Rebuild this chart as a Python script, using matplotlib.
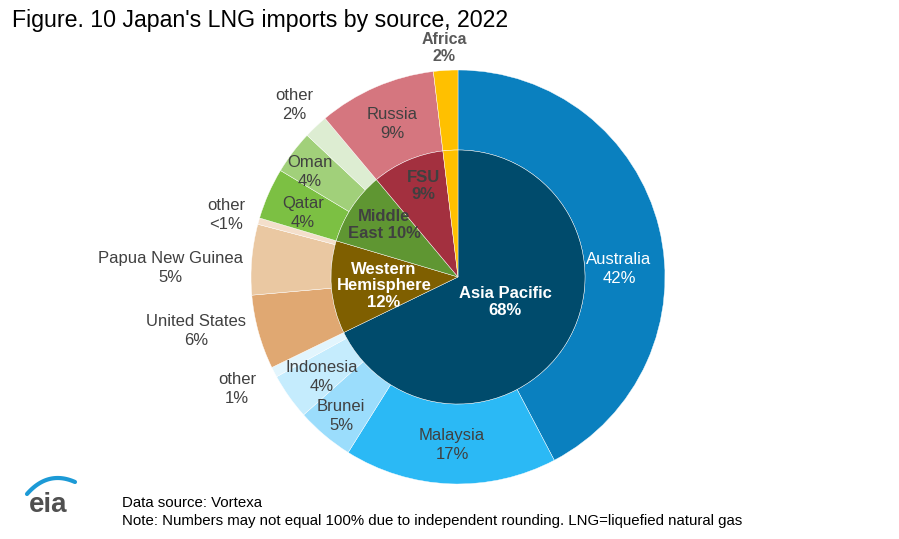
import matplotlib
matplotlib.use("Agg")
import matplotlib.pyplot as plt
import numpy as np
from matplotlib.lines import Line2D

plt.rcParams['font.family'] = ['Liberation Sans', 'DejaVu Sans']

# ---------------- data ----------------
outer_labels = ["Australia\n42%", "Malaysia\n17%", "Brunei\n5%", "Indonesia\n4%", "other\n1%",
                "United States\n6%", "Papua New Guinea\n5%", "other\n<1%",
                "Qatar\n4%", "Oman\n4%", "other\n2%",
                "Russia\n9%", "Africa\n2%"]
outer_values = [42.3, 16.6, 4.5, 3.6, 0.8,
                5.8, 5.5, 0.5,
                4.0, 3.4, 1.9,
                9.2, 1.9]
outer_colors = ["#0A80BF", "#2BB9F5", "#9BDDFC", "#C5ECFD", "#E2F5FD",
                "#E0A872", "#EAC8A2", "#F4DFCB",
                "#7CC043", "#A1D07A", "#DDEDD2",
                "#D5767F", "#FFC000"]
outer_text_colors = ["white", "#404040", "#404040", "#404040", "#404040",
                     "#404040", "#404040", "#404040",
                     "#404040", "#404040", "#404040",
                     "#404040", "#595959"]

inner_labels = ["Asia Pacific\n68%", "Western\nHemisphere\n12%", "Middle\nEast 10%", "FSU\n9%", "Africa"]
inner_values = [67.8, 11.8, 9.3, 9.2, 1.9]
inner_colors = ["#004B6C", "#7F5F00", "#5F9632", "#A3303F", "#FFC000"]
inner_text_colors = ["white", "white", "#404040", "#404040", "#404040"]

# label positions (layout, in axes data units; outer radius = 1)
outer_pos = [(0.778, 0.039), (-0.029, -0.812), (-0.565, -0.671), (-0.657, -0.483), (-1.068, -0.541),
             (-1.266, -0.261), (-1.391, 0.043), (-1.121, 0.300),
             (-0.749, 0.309), (-0.715, 0.507), (-0.792, 0.831),
             (-0.319, 0.739), (-0.068, 1.106)]
inner_pos = [(0.227, -0.121), (-0.357, -0.043), (-0.357, 0.251), (-0.169, 0.440), None]

W, H = 899, 539
fig = plt.figure(figsize=(W / 100, H / 100), dpi=100)

R = 207.0
cx, cy = 458.0, 277.0
lim = 1.05
size = 2 * lim * R
ax = fig.add_axes([(cx - size / 2) / W, (H - cy - size / 2) / H, size / W, size / H])
ax.set_xlim(-lim, lim)
ax.set_ylim(-lim, lim)
ax.set_aspect('equal')
ax.axis('off')

inner_r = 127.0 / R
ax.pie(outer_values, radius=1.0, colors=outer_colors, startangle=90, counterclock=False,
       wedgeprops=dict(width=1.0 - inner_r, edgecolor='white', linewidth=0.3))
ax.pie(inner_values, radius=inner_r, colors=inner_colors, startangle=90, counterclock=False,
       wedgeprops=dict(edgecolor='white', linewidth=0.3))
ax.set_xlim(-lim, lim)
ax.set_ylim(-lim, lim)

for lab, (x, y), c in zip(outer_labels, outer_pos, outer_text_colors):
    bold = lab.startswith("Africa")
    ax.text(x, y, lab, ha='center', va='center', color=c, fontsize=12 if not bold else 11.5,
            fontweight='bold' if bold else 'normal', linespacing=1.3 if not bold else 1.15,
            clip_on=False)

for lab, pos, c in zip(inner_labels, inner_pos, inner_text_colors):
    if pos is None:
        continue
    ax.text(pos[0], pos[1], lab, ha='center', va='center', color=c, fontsize=12,
            fontweight='bold', linespacing=1.15, clip_on=False)

# title
fig.text(12 / W, 1 - 21 / H, "Figure. 10 Japan's LNG imports by source, 2022",
         fontsize=16.7, color='black', ha='left', va='center')

# footnotes
fig.text(122 / W, 1 - 503 / H, "Data source: Vortexa", fontsize=10.8, color='black', ha='left', va='center')
fig.text(122 / W, 1 - 521 / H,
         "Note: Numbers may not equal 100% due to independent rounding. LNG=liquefied natural gas",
         fontsize=10.8, color='black', ha='left', va='center')

# eia logo
fig.text(48 / W, 1 - 505 / H, "eia", fontsize=20, fontweight='bold', color='#505050',
         ha='center', va='center')
t = np.linspace(0, 1, 40)
p0, p1, p2 = np.array([27, 494]), np.array([48, 470]), np.array([75, 482])
pts = ((1 - t)[:, None] ** 2) * p0 + (2 * (1 - t) * t)[:, None] * p1 + (t[:, None] ** 2) * p2
fig.add_artist(Line2D(pts[:, 0] / W, 1 - pts[:, 1] / H, color='#1C9AD6', linewidth=3,
                      solid_capstyle='round', transform=fig.transFigure))

fig.savefig("out.png", dpi=100)
